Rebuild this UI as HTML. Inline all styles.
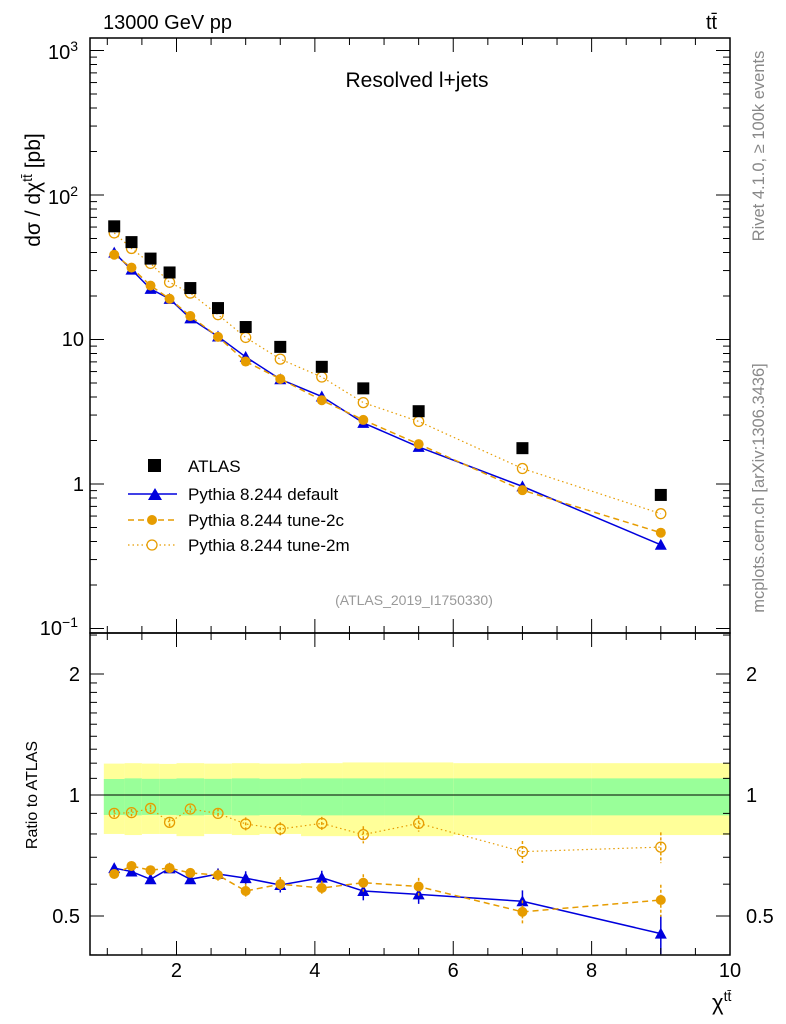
<!DOCTYPE html>
<html><head><meta charset="utf-8"><style>
body{margin:0;background:#fff}
svg{display:block;font-family:"Liberation Sans",sans-serif}
</style></head><body>
<svg id="c" width="786" height="1024" viewBox="0 0 786 1024">
<g id="bands"></g>
<g id="main"></g>
<g id="ratio"></g>
<g id="axes"></g>
<text x="103" y="29" font-size="20">13000 GeV pp</text>
<text x="706" y="29" font-size="20">tt̄</text>
<text x="417" y="87" font-size="21" text-anchor="middle">Resolved l+jets</text>
<text x="414" y="605" font-size="14" fill="#999" text-anchor="middle">(ATLAS_2019_I1750330)</text>
<text transform="translate(40,190) rotate(-90)" font-size="21" text-anchor="middle">dσ / dχ<tspan dy="-8" font-size="14">tt̄</tspan><tspan dy="8"> [pb]</tspan></text>
<text transform="translate(37,795) rotate(-90)" font-size="16" text-anchor="middle">Ratio to ATLAS</text>
<text x="712" y="1010" font-size="22">χ<tspan dy="-9" font-size="14">tt̄</tspan></text>
<text transform="translate(764,146) rotate(-90)" font-size="16.5" fill="#888" text-anchor="middle">Rivet 4.1.0, ≥ 100k events</text>
<text transform="translate(764,488) rotate(-90)" font-size="16.5" fill="#888" text-anchor="middle">mcplots.cern.ch [arXiv:1306.3436]</text>
<g id="legend">
<rect x="148" y="459" width="13" height="13" fill="#000"/>
<text x="188" y="472" font-size="17">ATLAS</text>
<line x1="128" y1="494" x2="177" y2="494" stroke="#0000dd" stroke-width="1.5"/>
<path d="M148,500 L155,488 L162,500 Z" fill="#0000dd"/>
<text x="188" y="500" font-size="17">Pythia 8.244 default</text>
<line x1="128" y1="520" x2="177" y2="520" stroke="#e69c00" stroke-width="1.5" stroke-dasharray="6,4"/>
<circle cx="152" cy="520" r="5" fill="#e69c00"/>
<text x="188" y="526" font-size="17">Pythia 8.244 tune-2c</text>
<line x1="128" y1="545" x2="177" y2="545" stroke="#e69c00" stroke-width="1.2" stroke-dasharray="1.5,3"/>
<circle cx="152" cy="545" r="5" fill="#fff" stroke="#e69c00" stroke-width="1.3"/>
<text x="188" y="551" font-size="17">Pythia 8.244 tune-2m</text>
</g>
</svg>
<script>
const xs=[1.1,1.35,1.625,1.9,2.2,2.6,3,3.5,4.1,4.7,5.5,7,9];
const edges=[0.95,1.25,1.5,1.75,2.0,2.4,2.8,3.2,3.8,4.4,5.0,6.0,8.0,10];
const atlas=[60.7,47.2,36.3,29.1,22.7,16.5,12.2,8.89,6.47,4.59,3.19,1.77,0.84];
const rDefault=[0.658,0.645,0.617,0.657,0.617,0.636,0.621,0.597,0.623,0.577,0.566,0.544,0.452];
const r2c=[0.636,0.666,0.65,0.658,0.64,0.632,0.577,0.6,0.587,0.605,0.592,0.512,0.548];
const r2m=[0.9,0.904,0.926,0.855,0.923,0.9,0.847,0.823,0.85,0.797,0.85,0.723,0.742];
const errDefault=[0.015,0.015,0.015,0.015,0.015,0.02,0.025,0.025,0.025,0.03,0.03,0.035,0.05];
const bandOuterHi=[1.197,1.2,1.197,1.195,1.2,1.197,1.2,1.197,1.2,1.205,1.205,1.2,1.2];
const bandOuterLo=[0.80,0.795,0.80,0.80,0.79,0.80,0.795,0.80,0.79,0.79,0.79,0.795,0.795];
const bandInnerHi=[1.096,1.1,1.097,1.097,1.1,1.097,1.1,1.097,1.1,1.1,1.1,1.1,1.1];
const bandInnerLo=[0.892,0.89,0.892,0.892,0.89,0.892,0.89,0.892,0.89,0.89,0.89,0.89,0.89];
const yTicksMain=[["10","3",52],["10","2",197],["10","",339],["1","",484],["10","−1",628]];
const xTickLabels=[2,4,6,8,10];
const rTickLabels=[0.5,1,2];

const NS="http://www.w3.org/2000/svg";
const L=90,R=730,T=38,MB=633,RB=955;
const X=v=>L+(v-0.75)*(R-L)/9.25;
const Y=v=>484-144.5*Math.log10(v);
const RY=v=>795-121*Math.log2(v);
function mk(p,tag,a){const e=document.createElementNS(NS,tag);for(const k in a)e.setAttribute(k,a[k]);p.appendChild(e);return e;}
const main=document.getElementById('main'),ratio=document.getElementById('ratio'),axes=document.getElementById('axes'),bands=document.getElementById('bands');

for(let i=0;i<xs.length;i++){
 const x1=X(edges[i]),x2=X(edges[i+1]);
 let e=mk(bands,'rect',{x:x1,y:RY(bandOuterHi[i]),width:x2-x1,height:RY(bandOuterLo[i])-RY(bandOuterHi[i]),fill:'#ffff99'});
 
 
 e=mk(bands,'rect',{x:x1,y:RY(bandInnerHi[i]),width:x2-x1,height:RY(bandInnerLo[i])-RY(bandInnerHi[i]),fill:'#99ff99'});
 
 
}
let ln=mk(ratio,'line',{x1:L,x2:R,y1:RY(1),y2:RY(1),stroke:'#000','stroke-width':1});



const series=[
 {r:rDefault,c:'#0000dd',dash:'',w:1.5,m:'tri',name:'default'},
 {r:r2c,c:'#e69c00',dash:'6,4',w:1.5,m:'dot',name:'tune-2c'},
 {r:r2m,c:'#e69c00',dash:'1.5,3',w:1.2,m:'ring',name:'tune-2m'}];
function marker(g,m,x,y,c,name){
 let e;
 if(m==='tri')e=mk(g,'path',{d:`M${x-6},${y+5}L${x},${y-6}L${x+6},${y+5}Z`,fill:c});
 else if(m==='dot')e=mk(g,'circle',{cx:x,cy:y,r:5,fill:c});
 else e=mk(g,'circle',{cx:x,cy:y,r:5,fill:'none',stroke:c,'stroke-width':1.3});
 
 
}
series.forEach((s,si)=>{
 const vals=s.r.map((r,i)=>r*atlas[i]);
 let p=mk(main,'polyline',{points:xs.map((x,i)=>X(x)+','+Y(vals[i])).join(' '),fill:'none',stroke:s.c,'stroke-width':s.w,'stroke-dasharray':s.dash});
 
 
 p=mk(ratio,'polyline',{points:xs.map((x,i)=>X(x)+','+RY(s.r[i])).join(' '),fill:'none',stroke:s.c,'stroke-width':s.w,'stroke-dasharray':s.dash});
 
 
 xs.forEach((x,i)=>{
  const e=errDefault[i]*(si===2?1.3:1);
  const eb=mk(ratio,'line',{x1:X(x),x2:X(x),y1:RY(s.r[i]+e),y2:RY(s.r[i]-e),stroke:s.c,'stroke-width':1.5,'stroke-dasharray':si===0?'':'3,2'});
  
  
  marker(main,s.m,X(x),Y(vals[i]),s.c,s.name+'-point');
  marker(ratio,s.m,X(x),RY(s.r[i]),s.c,s.name+'-ratio-point');
 });
});
xs.forEach((x,i)=>{
 const e=mk(main,'rect',{x:X(x)-6,y:Y(atlas[i])-6,width:12,height:12,fill:'#000'});
 
 
});

[[T,MB],[MB,RB]].forEach(([a,b])=>{
 const f=mk(axes,'rect',{x:L,y:a,width:R-L,height:b-a,fill:'none',stroke:'#000','stroke-width':1.5});
 
 
});
for(let d=-1;d<=3;d++)for(let k=1;k<10;k++){
 const y=Y(k*Math.pow(10,d)); if(y<T||y>MB)continue;
 const len=k===1?14:7;
 mk(axes,'line',{x1:L,x2:L+len,y1:y,y2:y,stroke:'#000'});
 mk(axes,'line',{x1:R,x2:R-len,y1:y,y2:y,stroke:'#000'});
}
yTicksMain.forEach(([b,e,y])=>{
 const t=mk(axes,'text',{x:e?78:84,y:y+7,'font-size':20,'text-anchor':'end'});
 t.textContent=b;
 if(e){const s=mk(t,'tspan',{dy:-8,'font-size':14});s.textContent=e;}
 
 
});
[0.4,0.5,0.6,0.7,0.8,0.9,1,1.1,1.2,1.3,1.4,1.5,1.6,1.7,1.8,1.9,2,2.5].forEach(v=>{
 const y=RY(v); if(y<MB||y>RB)return;
 const len=(v===0.5||v===1||v===2)?14:7;
 mk(axes,'line',{x1:L,x2:L+len,y1:y,y2:y,stroke:'#000'});
 mk(axes,'line',{x1:R,x2:R-len,y1:y,y2:y,stroke:'#000'});
});
rTickLabels.forEach(v=>{
 let t=mk(axes,'text',{x:80,y:RY(v)+7,'font-size':20,'text-anchor':'end'});t.textContent=String(v);
 
 
 t=mk(axes,'text',{x:746,y:RY(v)+7,'font-size':20});t.textContent=String(v);
 
 
});
for(let v=1;v<=10.01;v+=0.5){
 const x=X(v),len=(Math.abs(v-Math.round(v))<0.01&&Math.round(v)%2===0)?14:7;
 [[MB,1],[T,1],[RB,-1],[MB,-1]].forEach(([y,d])=>mk(axes,'line',{x1:x,x2:x,y1:y,y2:y+d*len,stroke:'#000'}));
}
xTickLabels.forEach(v=>{
 const t=mk(axes,'text',{x:X(v),y:977,'font-size':20,'text-anchor':'middle'});t.textContent=String(v);
 
 
});
</script>
</body></html>
